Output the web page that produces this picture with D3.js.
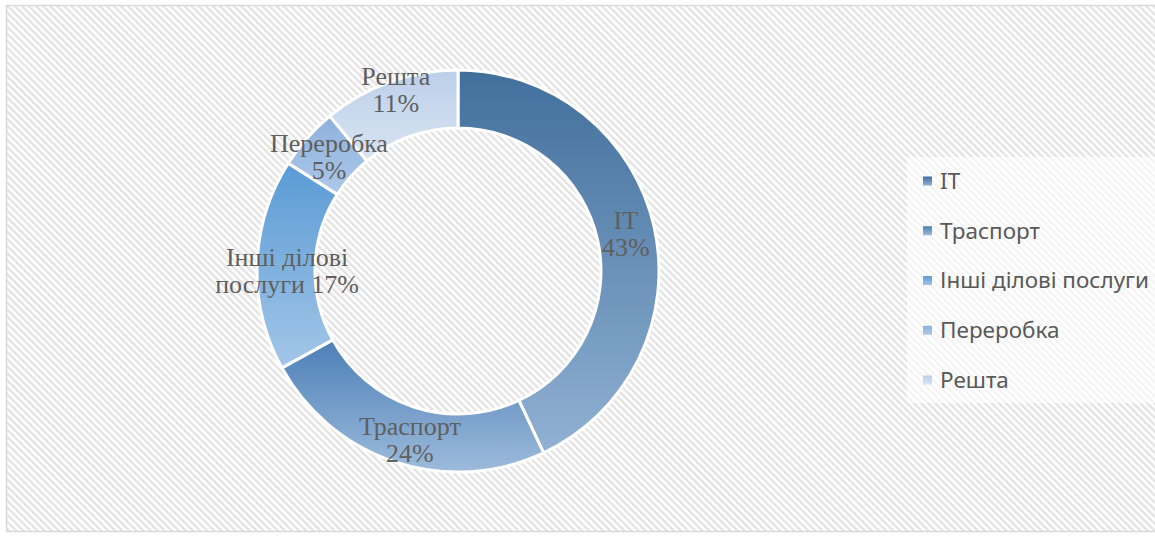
<!DOCTYPE html>
<html>
<head>
<meta charset="utf-8">
<script src="https://cdn.jsdelivr.net/npm/d3@7"></script>
<style>
  body { margin: 0; background: #fff; }
  svg { display: block; }
</style>
</head>
<body>
<svg id="chart"></svg>
<script>
// data
const categories = ["IT", "Траспорт", "Інші ділові послуги", "Переробка", "Решта"];
const shares = [43, 24, 17, 5, 11];
const labelLines = [["IT", "43%"], ["Траспорт", "24%"], ["Інші ділові", "послуги 17%"], ["Переробка", "5%"], ["Решта", "11%"]];
const topColors = ["#416f9c", "#4c7fb7", "#5a9bd5", "#8db1dc", "#bccfe9"];
const bottomColors = ["#90b1d3", "#9dbbdb", "#a3c6e8", "#adc8e9", "#d9e4f2"];

const W = 1155, H = 536;
const svg = d3.select("#chart").attr("width", W).attr("height", H);
const defs = svg.append("defs");

// hatched background
const hatch = defs.append("pattern")
    .attr("id", "hatch")
    .attr("patternUnits", "userSpaceOnUse")
    .attr("width", 5).attr("height", 5)
    .attr("patternTransform", "rotate(-45)");
hatch.append("rect").attr("width", 5).attr("height", 5).attr("fill", "#fff");
hatch.append("rect").attr("width", 2.4).attr("height", 5).attr("fill", "#e3e3e3");

svg.append("rect")
    .attr("x", 6.5).attr("y", 5.5)
    .attr("width", W + 10).attr("height", 526)
    .attr("fill", "url(#hatch)")
    .attr("stroke", "#d9d9d9")
    .attr("stroke-width", 1.5);

// gradients, one per slice
categories.forEach((c, i) => {
    const g = defs.append("linearGradient")
        .attr("id", "grad" + i)
        .attr("x1", 0).attr("y1", 0).attr("x2", 0).attr("y2", 1);
    g.append("stop").attr("offset", "0%").attr("stop-color", topColors[i]);
    g.append("stop").attr("offset", "100%").attr("stop-color", bottomColors[i]);
});

const cx = 458, cy = 271, outerR = 201, innerR = 143;

const pie = d3.pie().sort(null).value(d => d.value);
const arcs = pie(categories.map((c, i) => ({ name: c, value: shares[i], i })));
const arc = d3.arc().innerRadius(innerR).outerRadius(outerR);
const labelArc = d3.arc().innerRadius((innerR + outerR) / 2).outerRadius((innerR + outerR) / 2);

const g = svg.append("g").attr("transform", `translate(${cx},${cy})`);

g.selectAll("path.slice")
    .data(arcs)
    .enter().append("path")
    .attr("class", "slice")
    .attr("d", arc)
    .attr("fill", d => `url(#grad${d.data.i})`)
    .attr("stroke", "#fff")
    .attr("stroke-width", 3)
    .attr("stroke-linejoin", "round");

// Excel pushed some labels a little off the centroid
const nudge = { "Решта": [-4, -19], "Траспорт": [5, 5], "Інші ділові послуги": [1, 5] };

const labels = g.selectAll("text.lbl")
    .data(arcs)
    .enter().append("text")
    .attr("class", "lbl")
    .attr("transform", d => {
        const [x, y] = labelArc.centroid(d);
        const n = nudge[d.data.name] || [0, 0];
        return `translate(${x + n[0]},${y + n[1]})`;
    })
    .attr("text-anchor", "middle")
    .style("font-family", "'Liberation Serif', 'Times New Roman', serif")
    .style("font-size", "26px")
    .style("fill", "#5f5f5f");

labels.each(function(d) {
    const lines = labelLines[d.data.i];
    const t = d3.select(this);
    lines.forEach((line, k) => {
        t.append("tspan")
            .attr("x", 0)
            .attr("y", (k - (lines.length - 1) / 2) * 27)
            .attr("dy", "0.33em")
            .text(line);
    });
});

// legend
svg.append("rect")
    .attr("x", 907).attr("y", 157)
    .attr("width", 260).attr("height", 246)
    .attr("fill", "#fff")
    .attr("opacity", 0.6);

const ly = d3.scalePoint().domain(categories).range([181, 380]);

const legend = svg.selectAll("g.legend")
    .data(categories)
    .enter().append("g")
    .attr("class", "legend")
    .attr("transform", d => `translate(923,${ly(d)})`);

legend.append("rect")
    .attr("x", 0).attr("y", -4.5)
    .attr("width", 9).attr("height", 9)
    .attr("fill", (d, i) => `url(#grad${i})`);

legend.append("text")
    .attr("x", 17)
    .attr("dy", "0.35em")
    .style("font-family", "'Noto Sans', 'Liberation Sans', sans-serif")
    .style("font-size", "22.5px")
    .style("fill", "#595959")
    .text(d => d);
</script>
</body>
</html>
